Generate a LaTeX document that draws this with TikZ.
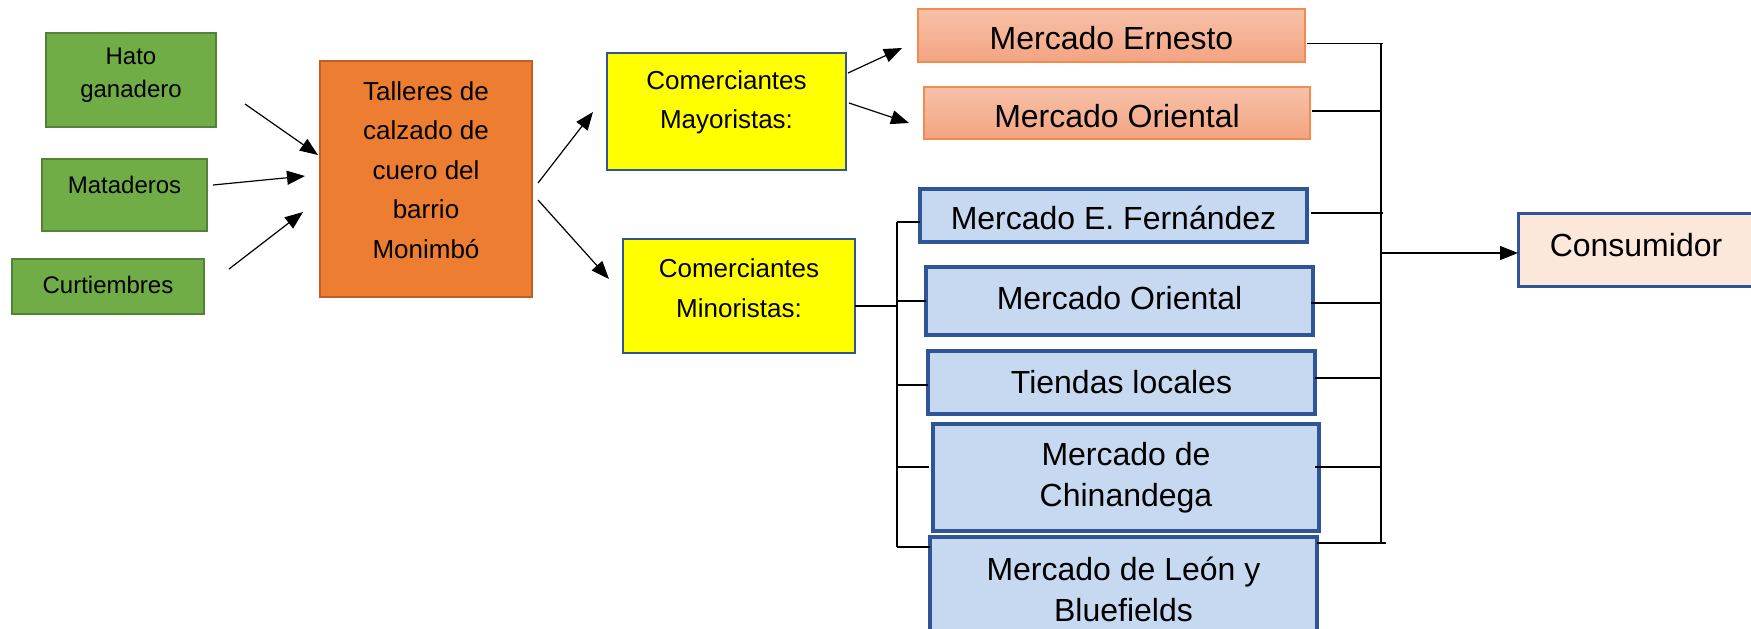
\documentclass[tikz,border=0pt]{standalone}
\usepackage{fontspec}
\setmainfont{Liberation Sans}
\usetikzlibrary{arrows.meta,calc}
\definecolor{grn}{HTML}{70AD47}
\definecolor{grnb}{HTML}{548235}
\definecolor{org}{HTML}{ED7D31}
\definecolor{orgb}{HTML}{BF5F25}
\definecolor{ylw}{HTML}{FFFF00}
\definecolor{bluB}{HTML}{2F5597}
\definecolor{lblue}{HTML}{C6D9F1}
\definecolor{salT}{HTML}{F7C1A9}
\definecolor{salB}{HTML}{F3A482}
\definecolor{salD}{HTML}{F08C4E}
\definecolor{cons}{HTML}{FCE8DA}
\begin{document}
\begin{tikzpicture}[x=1pt,y=-1pt,
  bx/.style={draw, inner sep=0pt, outer sep=0pt},
  gbox/.style={bx, fill=grn, draw=grnb, line width=2.4pt},
  obox/.style={bx, fill=org, draw=orgb, line width=2.4pt},
  ybox/.style={bx, fill=ylw, draw=bluB, line width=2.8pt},
  sbox/.style={bx, top color=salT, bottom color=salB, draw=salD, line width=1.8pt},
  bbox/.style={bx, fill=lblue, draw=bluB, line width=3.2pt},
  cbox/.style={bx, fill=cons, draw=bluB, line width=3pt},
  tsm/.style={inner sep=0pt, align=center, font=\fontsize{24}{33}\selectfont},
  tmd/.style={inner sep=0pt, align=center, font=\fontsize{26}{39.5}\selectfont},
  tlg/.style={inner sep=0pt, align=center, font=\fontsize{32}{41}\selectfont},
  arr/.style={-{Triangle[length=18pt,width=14pt]}, line width=1.2pt},
  ln/.style={line width=1.2pt},
]
\useasboundingbox (0,0) rectangle (1751,629);

% sources
\node[gbox, minimum width=170pt, minimum height=94pt] (hato) at (131,80) {};
\node[tsm] (hatot) at (131,75) {Hato\\ganadero};
\node[gbox, minimum width=165pt, minimum height=72pt] (mat) at (124.5,195) {};
\node[tsm] (matt) at (124.5,185) {Mataderos};
\node[gbox, minimum width=192pt, minimum height=55pt] (cur) at (108,286.5) {};
\node[tsm] (curt) at (108,285) {Curtiembres};

% talleres
\node[obox, minimum width=212pt, minimum height=236pt] (tal) at (426,179) {};
\node[tmd] (talt) at (426,170) {Talleres de\\calzado de\\cuero del\\barrio\\Monimbó};

% comerciantes
\node[ybox, minimum width=239pt, minimum height=117pt] (may) at (726.5,111.5) {};
\node[tmd] (mayt) at (726.5,102.5) {Comerciantes\\Mayoristas:};
\node[ybox, minimum width=232pt, minimum height=114pt] (min) at (739,296) {};
\node[tmd] (mint) at (739,288) {Comerciantes\\Minoristas:};

% mayoristas markets
\node[sbox, minimum width=387pt, minimum height=53pt] (ern) at (1111.5,35.5) {};
\node[tlg] (ernt) at (1111.5,38) {Mercado Ernesto};
\node[sbox, minimum width=386pt, minimum height=52pt] (ori) at (1117,113) {};
\node[tlg] (orit) at (1117,116) {Mercado Oriental};

% minoristas markets
\node[bbox, minimum width=387pt, minimum height=53pt] (fer) at (1113.5,215.5) {};
\node[tlg] (fert) at (1113.5,218) {Mercado E. Fernández};
\node[bbox, minimum width=387pt, minimum height=68pt] (orib) at (1119.5,301) {};
\node[tlg] (oribt) at (1119.5,298) {Mercado Oriental};
\node[bbox, minimum width=387pt, minimum height=63pt] (tie) at (1121.5,382.5) {};
\node[tlg] (tiet) at (1121.5,382) {Tiendas locales};
\node[bbox, minimum width=386pt, minimum height=107pt] (chi) at (1126,477.5) {};
\node[tlg] (chit) at (1126,478) {Mercado de\\Chinandega};
\node[bbox, minimum width=387pt, minimum height=107pt] (leo) at (1123.5,590.5) {};
\node[tlg] (leot) at (1123.5,589) {Mercado de León y\\Bluefields};

% consumidor
\node[cbox, minimum width=238pt, minimum height=73pt] (con) at (1637,249.5) {};
\node[tlg] (cont) at (1636,245) {Consumidor};

% arrows into talleres
\draw[arr] ([shift={(29,24)}]hato.east) -- ([shift={(-2,-24)}]tal.west);
\draw[arr] ([shift={(6,-10)}]mat.east) -- ([shift={(-15,-3)}]tal.west);
\draw[arr] ([shift={(25,-17.5)}]cur.east) -- ([shift={(-17,33)}]tal.west);

% talleres to comerciantes
\draw[arr] ([shift={(6,4)}]tal.east) -- ([shift={(-14,0.5)}]may.west);
\draw[arr] ([shift={(6,21)}]tal.east) -- ([shift={(-14,-17)}]min.west);

% mayoristas to markets
\draw[arr] ([shift={(2,-38.5)}]may.east) -- ([shift={(-16,12.5)}]ern.west);
\draw[arr] ([shift={(3,-8.5)}]may.east) -- ([shift={(-15,10)}]ori.west);

% left bus
\coordinate (L1) at (897,222);
\coordinate (L2) at (897,301);
\coordinate (L3) at (897,385);
\coordinate (L4) at (897,467);
\coordinate (L5) at (897,547);
\coordinate (Lm) at (897,306);
\draw[ln] (L1) -- (L5);
\draw[ln] (Lm -| min.east) -- (Lm);
\draw[ln] (L1) -- (L1 -| fer.west);
\draw[ln] (L2) -- (L2 -| orib.west);
\draw[ln] (L3) -- (L3 -| tie.west);
\draw[ln] (L4) -- ([xshift=-4pt]L4 -| chi.west);
\draw[ln] (L5) -- (L5 -| leo.west);

% right bus
\coordinate (R1) at (1381,43.5);
\coordinate (R2) at (1381,111);
\coordinate (R3) at (1381,213);
\coordinate (R4) at (1381,303);
\coordinate (R5) at (1381,378);
\coordinate (R6) at (1381,467);
\coordinate (R7) at (1381,543);
\coordinate (RC) at (1381,253);
\draw[ln] (R1) -- (R7);
\draw[ln] ([xshift=2pt]R1 -| ern.east) -- ([xshift=2pt]R1);
\draw[ln] ([xshift=2pt]R2 -| ori.east) -- (R2);
\draw[ln] ([xshift=4pt]R3 -| fer.east) -- ([xshift=2pt]R3);
\draw[ln] ([xshift=-2pt]R4 -| orib.east) -- (R4);
\draw[ln] (R5 -| tie.east) -- (R5);
\draw[ln] ([xshift=-4pt]R6 -| chi.east) -- (R6);
\draw[ln] (R7 -| leo.east) -- ([xshift=5pt]R7);
\draw[arr] (RC) -- (RC -| con.west);
\end{tikzpicture}
\end{document}
